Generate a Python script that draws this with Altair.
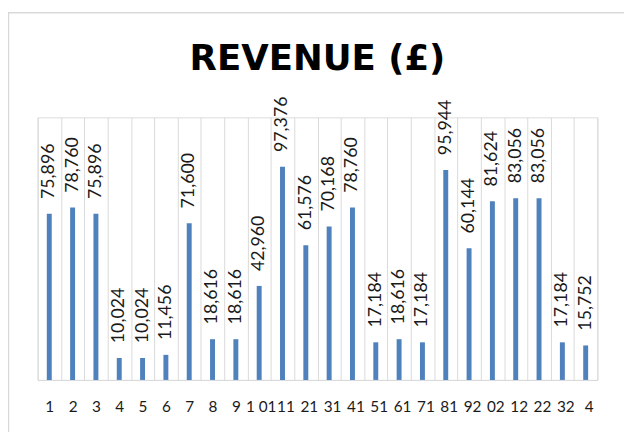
import json
import altair as alt
import pandas as pd

categories = list(range(1, 25))
revenue = [75896, 78760, 75896, 10024, 10024, 11456, 71600, 18616, 18616, 42960,
           97376, 61576, 70168, 78760, 17184, 18616, 17184, 95944, 60144, 81624,
           83056, 83056, 17184, 15752]
tick_labels = ["1", "2", "3", "4", "5", "6", "7", "8", "9", "1 01", "11", "21",
               "31", "41", "51", "61", "71", "81", "92", "02", "12", "22", "32", "4"]

df = pd.DataFrame({"cat": categories, "revenue": revenue})

W, H = 567, 266
label_expr = json.dumps(tick_labels) + "[datum.value - 1]"

x = alt.X(
    "cat:O",
    scale=alt.Scale(paddingInner=0, paddingOuter=0),
    axis=alt.Axis(
        title=None, grid=True, gridColor="#D9D9D9", gridWidth=1,
        tickBand="extent", ticks=False, domainColor="#D9D9D9", domainWidth=1,
        labelAngle=0, labelFont="Lato", labelFontSize=15.5,
        labelColor="#1a1a1a", labelPadding=20, labelOverlap=False,
        labelExpr=label_expr,
        labelOffset={"condition": [
            {"test": "datum.value == 10", "value": 1.5},
            {"test": "datum.value > 10", "value": 3},
        ], "value": 0},
    ),
)
y = alt.Y("revenue:Q", scale=alt.Scale(domain=[0, 120000]), axis=None)

base = alt.Chart(df)
bars = base.mark_bar(size=5, color="#4F81BD").encode(x=x, y=y)
labels = base.mark_text(
    angle=270, align="left", baseline="middle", dx=15,
    font="Lato", fontSize=18, color="#1a1a1a",
).encode(x=x, y=y, text=alt.Text("revenue:Q", format=","))

border = alt.Chart(pd.DataFrame({"a": [0]})).mark_rect(
    fillOpacity=0, stroke="#D9D9D9", strokeWidth=1.5
).encode(
    x=alt.value(-29.5), x2=alt.value(W + 60),
    y=alt.value(-106), y2=alt.value(H + 90),
)

chart = alt.layer(border, bars, labels).properties(
    width=W, height=H,
    title=alt.TitleParams(
        "REVENUE (£)", font="DejaVu Sans", fontSize=36, fontWeight="bold",
        color="#000000", anchor="middle", frame="group", offset=-95,
        baseline="alphabetic",
    ),
    autosize=alt.AutoSizeParams(type="none"),
    padding={"left": 30, "top": 108, "right": 27, "bottom": 50},
).configure_view(strokeWidth=0).configure(background="white")

chart.save("out.html", embed_options={"renderer": "svg", "actions": False})
